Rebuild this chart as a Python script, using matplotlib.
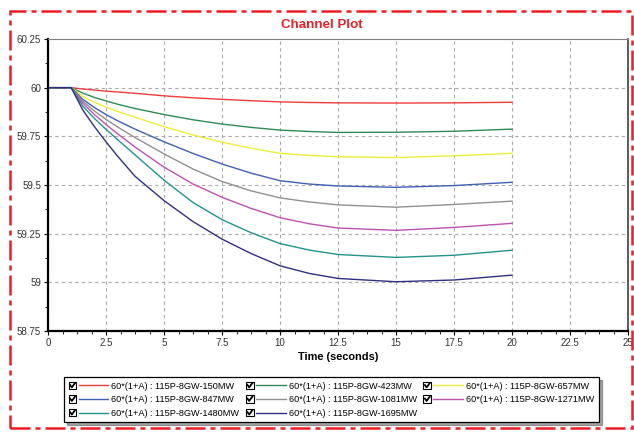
import matplotlib
matplotlib.use("Agg")
import matplotlib.pyplot as plt
from matplotlib.legend_handler import HandlerBase
from matplotlib.lines import Line2D
from matplotlib.patches import Rectangle
from matplotlib.ticker import MultipleLocator

plt.rcParams["font.family"] = ["Liberation Sans", "DejaVu Sans"]

# time samples (seconds)
time_s = [0, 1, 1.5, 2, 2.5, 3, 3.75, 5, 6.25, 7.5, 8.75, 10, 11.25, 12.5, 15, 17.5, 20]

# frequency traces, 60*(1+A)
f_150 = [60, 60, 59.993, 59.988, 59.982, 59.978, 59.971, 59.958, 59.948, 59.940, 59.933, 59.927,
         59.924, 59.922, 59.921, 59.922, 59.925]
f_423 = [60, 60, 59.972, 59.950, 59.932, 59.915, 59.893, 59.862, 59.835, 59.813, 59.796, 59.782,
         59.775, 59.770, 59.771, 59.776, 59.787]
f_657 = [60, 60, 59.955, 59.925, 59.900, 59.878, 59.848, 59.800, 59.757, 59.720, 59.689, 59.663,
         59.652, 59.645, 59.641, 59.650, 59.663]
f_847 = [60, 60, 59.940, 59.898, 59.862, 59.830, 59.787, 59.722, 59.662, 59.608, 59.561, 59.522,
         59.505, 59.495, 59.488, 59.497, 59.514]
f_1081 = [60, 60, 59.930, 59.880, 59.837, 59.798, 59.744, 59.660, 59.582, 59.518, 59.470, 59.434,
          59.413, 59.398, 59.386, 59.400, 59.417]
f_1271 = [60, 60, 59.920, 59.862, 59.811, 59.763, 59.695, 59.592, 59.505, 59.437, 59.380, 59.332,
          59.301, 59.279, 59.267, 59.282, 59.303]
f_1480 = [60, 60, 59.905, 59.842, 59.786, 59.733, 59.655, 59.525, 59.410, 59.322, 59.255, 59.199,
          59.166, 59.143, 59.128, 59.139, 59.165]
f_1695 = [60, 60, 59.885, 59.800, 59.722, 59.648, 59.545, 59.420, 59.312, 59.222, 59.148, 59.085,
          59.046, 59.020, 59.003, 59.012, 59.037]

labels = [
    "60*(1+A) : 115P-8GW-150MW",
    "60*(1+A) : 115P-8GW-423MW",
    "60*(1+A) : 115P-8GW-657MW",
    "60*(1+A) : 115P-8GW-847MW",
    "60*(1+A) : 115P-8GW-1081MW",
    "60*(1+A) : 115P-8GW-1271MW",
    "60*(1+A) : 115P-8GW-1480MW",
    "60*(1+A) : 115P-8GW-1695MW",
]
series = [f_150, f_423, f_657, f_847, f_1081, f_1271, f_1480, f_1695]
colors = ["#f03c3c", "#2e8b57", "#eeee3a", "#4060b4", "#909090",
          "#c050b0", "#20948c", "#303080"]


class CheckHandler(HandlerBase):
    # checkbox + short line, like the original tool's legend
    def create_artists(self, legend, orig_handle, xdescent, ydescent,
                       width, height, fontsize, trans):
        s = 0.85 * fontsize
        x0 = -xdescent
        ym = -ydescent + height / 2
        y0 = ym - s / 2
        box = Rectangle((x0, y0), s, s, fc="white", ec="black", lw=0.8,
                        transform=trans)
        tick = Line2D([x0 + 0.2 * s, x0 + 0.42 * s, x0 + 0.82 * s],
                      [y0 + 0.55 * s, y0 + 0.25 * s, y0 + 0.8 * s],
                      color="black", lw=1.3, transform=trans)
        ln = Line2D([x0 + 1.1 * fontsize, x0 + width], [ym, ym],
                    color=orig_handle.get_color(), lw=1.0, transform=trans)
        return [box, tick, ln]


fig = plt.figure(figsize=(6.34, 4.32), dpi=100)
ax = fig.add_axes([48 / 634, 1 - 331 / 432, 580 / 634, 292 / 432])

lines = []
for vals, c, lab in zip(series, colors, labels):
    (l,) = ax.plot(time_s, vals, color=c, lw=1.0, label=lab)
    lines.append(l)

ax.set_xlim(0, 25)
ax.set_ylim(58.75, 60.25)
ax.xaxis.set_major_locator(MultipleLocator(2.5))
ax.xaxis.set_minor_locator(MultipleLocator(0.625))
ax.yaxis.set_major_locator(MultipleLocator(0.25))
ax.yaxis.set_minor_locator(MultipleLocator(0.125))
ax.set_xticklabels([f"{v:g}" for v in ax.get_xticks()])
ax.set_yticklabels([f"{v:g}" for v in ax.get_yticks()])
ax.tick_params(axis="both", which="major", length=3, width=0.8,
               labelsize=7, labelcolor="#333333", pad=2)
ax.tick_params(axis="both", which="minor", length=2, width=0.6)
ax.grid(True, which="major", color="#a8a8a8", linestyle=(0, (3, 3)), lw=0.8)

for side in ("left", "bottom"):
    ax.spines[side].set_linewidth(1.6)
    ax.spines[side].set_color("black")
ax.spines["top"].set_linewidth(0.8)
ax.spines["top"].set_color("#808080")
ax.spines["right"].set_linewidth(1.2)
ax.spines["right"].set_color("#404040")

ax.set_xlabel("Time (seconds)", fontsize=7.9, fontweight="bold", labelpad=3)
fig.text(322 / 634, 1 - 25 / 432, "Channel Plot", color="#e8202a",
         fontsize=9.6, fontweight="bold", ha="center", va="center")

# legend is row-major in the original, matplotlib fills by column
order = [0, 3, 6, 1, 4, 7, 2, 5]
leg = fig.legend([lines[i] for i in order], [labels[i] for i in order],
                 ncol=3, loc="upper left",
                 bbox_to_anchor=(64 / 634, 1 - 377 / 432),
                 fontsize=6.6, frameon=True, fancybox=False, shadow=True,
                 edgecolor="black", handlelength=4.35, handleheight=0.9,
                 handletextpad=0.33, columnspacing=0.7, labelspacing=0.5,
                 borderpad=0.5, borderaxespad=0,
                 handler_map={Line2D: CheckHandler()})
leg.get_frame().set_linewidth(0.9)

# dash-dot page border
fig.patches.append(Rectangle((10 / 634, 4 / 432), 622 / 634, 417.5 / 432,
                             transform=fig.transFigure, fill=False,
                             ec="#ee1c24", lw=1.8, ls=(0, (8, 2, 2, 2))))

fig.savefig("out.png", dpi=100)
